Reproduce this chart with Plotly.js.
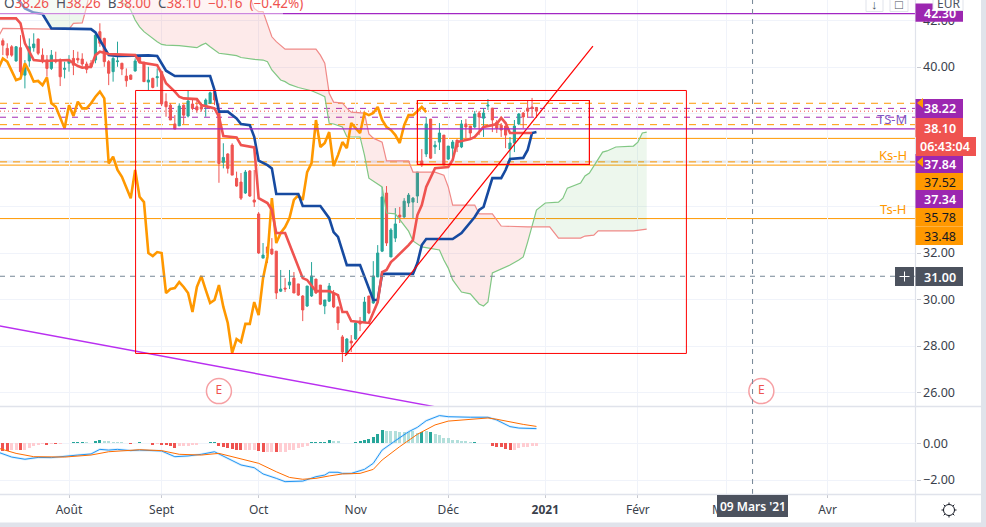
<!DOCTYPE html>
<html><head><meta charset="utf-8">
<script src="https://cdn.plot.ly/plotly-3.0.1.min.js"></script>
<style>html,body{margin:0;padding:0;background:#fff;overflow:hidden}#c{width:986px;height:527px}</style>
</head><body><div id="c"></div><script>
// ---- candles (bar index -15 .. 106, index 0 = first bar of August)
const firstBar=-15;
const openP=[41.13,40.80,40.87,40.26,40.83,39.65,40.26,40.83,41.20,40.51,40.30,39.94,40.30,40.30,39.90,40.16,40.37,40.37,40.34,40.13,40.16,40.30,41.52,41.23,40.23,39.80,40.23,40.16,39.61,39.65,39.83,40.47,40.20,39.35,39.51,39.54,39.80,38.51,38.36,37.55,37.47,38.36,37.89,38.41,38.29,38.29,38.29,38.44,38.94,38.01,35.90,36.26,36.64,35.21,35.05,34.58,35.53,34.28,33.68,31.78,32.26,32.17,32.08,30.36,30.49,30.62,30.92,30.67,30.15,29.72,30.15,30.88,30.62,29.72,29.93,30.28,29.68,28.39,27.70,28.21,28.30,29.07,29.03,30.15,29.85,30.97,32.08,34.58,31.83,32.64,33.63,33.55,34.15,34.19,34.45,35.96,36.26,37.76,36.56,36.77,37.07,36.04,36.51,36.86,36.56,37.55,37.46,37.42,38.02,37.80,38.32,38.23,37.63,37.50,37.46,36.47,36.73,37.55,38.02,38.23,38.28,38.26];
const highP=[41.23,41.02,40.94,40.90,41.37,40.30,41.23,41.45,41.23,40.80,40.51,40.73,40.66,40.37,40.23,40.51,40.73,40.66,40.59,40.23,40.30,41.52,41.88,41.26,40.30,40.44,41.09,40.18,39.94,39.68,40.37,40.51,40.23,40.01,39.54,39.94,39.84,38.87,38.44,37.93,38.44,38.39,38.98,38.65,38.58,38.44,38.65,38.94,39.01,38.44,36.72,36.29,36.72,35.50,35.44,35.57,35.57,35.57,33.76,32.43,32.26,32.64,32.08,31.27,30.92,31.27,31.18,30.67,30.19,30.58,31.61,30.88,30.62,29.98,30.71,30.41,29.68,28.47,28.34,28.47,29.03,29.25,30.11,30.15,31.65,32.34,34.84,34.88,33.07,33.93,33.98,34.36,34.58,34.41,35.48,36.47,37.85,37.76,36.82,37.59,37.07,36.60,36.86,36.86,37.72,37.76,37.46,38.11,38.11,38.23,38.62,38.23,37.72,37.59,37.46,36.99,37.72,38.02,38.06,38.58,38.67,38.26];
const lowP=[40.51,40.37,40.44,40.23,39.65,39.08,40.01,40.66,40.51,40.16,39.58,39.87,40.16,39.18,39.51,39.80,39.65,40.16,40.01,39.73,39.94,40.16,40.87,40.01,39.22,39.37,40.01,39.65,39.15,39.44,39.80,40.16,39.37,39.01,39.08,39.15,38.32,37.86,37.72,37.33,37.46,37.55,37.83,38.15,38.03,38.08,37.86,38.41,38.36,35.02,35.64,35.42,35.35,34.85,34.28,34.54,34.41,33.98,31.96,31.78,31.57,31.91,30.02,30.32,30.32,30.45,30.28,30.15,29.07,29.68,30.11,30.24,29.76,29.37,29.89,29.63,28.69,27.31,27.61,27.74,28.26,28.64,28.99,29.37,29.81,30.97,32.04,32.30,31.83,32.47,33.29,33.50,33.98,33.50,34.15,35.70,36.13,36.04,36.26,36.43,35.78,36.00,36.13,36.34,36.51,36.94,36.94,37.37,37.07,36.99,38.15,37.20,37.16,36.99,36.51,35.91,36.34,37.50,37.37,37.81,37.85,37.81];
const closeP=[40.94,40.51,40.51,40.87,39.80,40.08,40.87,40.99,40.59,40.23,39.94,40.51,40.23,39.58,39.94,40.30,40.08,40.30,40.13,39.90,40.01,41.37,41.02,40.23,39.73,40.37,40.26,39.91,39.41,39.47,40.26,40.20,39.37,39.44,39.12,39.58,38.41,38.29,37.72,37.33,38.32,37.93,38.54,38.22,38.15,38.19,38.58,38.89,38.58,35.85,36.11,35.64,35.35,34.88,34.36,35.48,34.45,34.19,32.00,31.91,32.00,31.96,30.28,30.45,30.45,30.75,30.28,30.19,29.55,30.58,31.01,30.28,29.80,29.98,30.58,29.68,28.99,27.74,28.30,28.13,28.99,28.95,29.89,29.42,31.01,32.00,34.41,32.43,32.99,33.25,33.55,34.23,34.49,34.36,35.48,35.78,37.55,36.08,36.64,37.16,35.78,36.60,36.77,36.56,37.55,37.42,37.16,37.98,37.85,38.02,38.36,37.72,37.37,37.29,37.07,36.73,37.46,37.98,37.85,38.10,38.23,38.10];

// ---- Ichimoku lines (bar index, price)
const tenkanX=[-16,-12,-11,-10,-9,-8,-6,-1,0,1,2,3,5,6,7,9,15,16,20,21,22,24,25,26,29,30,33,34,35,38,39,42,43,45,46,47,49,53,54,56,59,61,62,63,64,68,69,70,71,72,73,74,77,78,79,80,81,83,86,87,88,91,92,93,94,96,97,98,99,100,105];
const tenkanY=[42.09,42.09,41.88,41.02,40.66,40.30,40.26,40.30,40.30,40.16,40.04,39.97,40.01,40.51,40.66,40.56,40.51,40.20,40.08,39.73,39.30,38.94,38.72,38.65,38.62,38.36,38.22,37.86,37.03,36.97,36.64,36.54,34.36,34.15,33.85,32.86,32.86,30.92,30.84,30.36,30.36,30.19,29.46,29.46,29.07,28.99,29.42,29.89,31.18,31.27,31.61,31.78,32.34,32.56,33.63,34.06,34.84,35.65,35.70,36.00,36.77,36.90,36.99,37.20,37.42,37.50,37.55,37.81,37.59,37.16,37.16];
const kijunX=[-13,-10,-8,-6,-4,5,6,8,9,11,18,20,22,24,32,33,34,36,38,39,41,42,43,45,46,47,52,53,57,59,60,61,63,66,69,70,71,78,79,80,81,87,88,89,92,93,94,95,96,98,99,100,103,104,105,106];
const kijunY=[43.30,42.52,42.34,42.28,41.66,41.63,41.49,40.80,40.51,40.47,40.50,40.47,39.84,39.61,39.61,39.01,38.08,38.08,37.79,37.55,37.50,37.00,35.97,35.78,35.64,34.54,34.54,34.02,34.02,33.50,32.90,32.69,31.48,31.48,29.98,29.98,31.10,31.10,31.57,32.34,32.60,32.60,32.73,32.86,33.55,33.85,33.98,34.62,35.22,35.22,35.57,36.04,36.09,36.43,37.16,37.20];
const chikouFirst=-16;
const chikouY=[39.94,40.37,40.23,39.80,39.44,39.51,40.16,39.80,39.37,39.40,39.22,39.55,38.44,38.29,37.86,37.36,38.36,37.89,38.51,38.22,38.22,38.44,38.72,38.94,38.65,35.85,36.14,35.57,35.28,34.85,34.35,35.57,34.42,34.19,32.00,31.87,32.04,32.00,30.28,30.45,30.49,30.75,30.54,30.28,29.46,30.54,31.01,30.41,29.85,29.98,30.62,29.68,28.99,27.70,28.30,28.17,28.95,28.95,29.89,29.33,30.92,31.83,34.36,32.43,32.86,33.12,33.50,34.28,34.49,34.28,35.48,35.87,37.72,36.56,36.73,37.20,35.74,36.21,36.77,36.51,37.59,37.37,37.16,38.02,37.93,38.02,38.28,37.72,37.42,37.29,37.07,36.73,37.50,37.93,37.93,38.10,38.28,38.06];
const spanBX=[-16,-15,-4,0,1,3,4,5,6,40,41,42,43,44,45,46,47,49,56,57,58,59,60,62,63,64,67,68,69,71,72,77,78,83,85,86,87,92,93,96,98,104,109,111,116,117,119,120,128,131];
const spanBY=[41.30,41.66,41.63,41.63,41.88,41.90,42.59,43.45,44.50,44.50,43.02,42.52,42.38,42.38,41.80,41.30,41.09,40.77,40.77,40.51,40.16,38.87,38.49,38.45,38.23,38.06,38.02,37.12,36.94,36.77,35.96,35.96,35.48,35.48,35.35,34.84,34.06,34.06,33.68,33.68,33.16,33.12,33.12,32.64,32.64,32.73,32.77,32.95,32.95,33.03];
const spanAX=[11,12,13,14,15,16,17,18,19,20,21,22,25,28,29,30,31,32,33,34,36,38,39,41,42,44,45,46,47,48,49,50,52,55,57,58,59,60,62,63,66,67,68,71,72,74,77,78,80,83,84,85,86,87,89,91,92,93,94,95,96,97,98,100,102,103,104,105,106,108,111,112,113,116,117,118,119,121,122,124,128,129,130,131];
const spanAY=[43.30,42.77,42.67,42.45,42.02,41.73,41.52,41.37,41.23,41.09,40.97,40.94,40.92,40.84,40.83,40.94,41.02,40.87,40.73,40.59,40.54,40.49,40.41,40.34,40.33,40.30,40.23,39.87,39.63,39.44,39.37,39.25,39.12,38.98,38.82,38.72,37.58,37.55,37.42,37.00,36.99,36.21,35.22,34.84,33.72,33.68,32.94,32.52,32.26,32.17,32.13,31.70,31.35,30.84,30.32,30.24,30.02,29.81,29.72,29.89,31.14,31.23,31.31,31.48,31.70,31.83,32.47,33.20,33.85,34.15,34.19,34.36,34.79,35.01,35.31,35.44,35.74,36.34,36.39,36.56,36.60,36.77,37.16,37.20];
const spanCrossX=104.9, spanCrossY=33.12;
const greenEdgeX=[-11,-8,-6,-4], greenEdgeY=[43.2,42.34,42.28,41.63];

// ---- MACD pane
const histV=[-.40,-.40,-.36,-.35,-.36,-.35,-.25,-.13,-.09,-.04,-.11,-.02,-.05,-.04,.02,.04,.05,.05,.09,.05,.04,.15,.20,.15,.11,.09,.09,.05,.02,-.04,.04,.05,.02,.005,-.07,-.05,-.07,-.09,-.16,-.27,-.16,-.13,-.13,-.11,-.09,.005,.04,.07,.07,-.13,-.22,-.25,-.29,-.35,-.36,-.35,-.35,-.35,-.44,-.47,-.45,-.45,-.49,-.49,-.45,-.36,-.35,-.27,-.22,-.13,.05,.07,.07,.09,.18,.15,.15,.04,.01,.02,.07,.11,.20,.24,.36,.51,.74,.69,.69,.69,.64,.64,.60,.65,.56,.60,.65,.60,.51,.45,.29,.27,.18,.18,.15,.11,.05,.05,.02,.01,.01,-.13,-.18,-.22,-.31,-.35,-.35,-.27,-.22,-.22,-.16,-.16];
const histTone="RRrrRrrrrrRrRrtTTTTttTTttttttRTTttRrRRRRrrrrrtTTTRRRRRRrrrRRrrRrrrrrrrTTTTTtttttTTTTTTTttttttttTtTtttttttttTtttRRRRRrrrrrr";
const macdX=[-16,-13,-10,-7,-4,-1,2,5,7,9,11,14,16,21,24,27,30,33,36,39,42,44,47,49,53,56,58,59,61,62,64,67,69,71,74,77,79,81,84,86,91,95,97,100,102,106];
const macdY=[-.49,-.75,-.87,-.77,-.78,-.73,-.64,-.58,-.33,-.37,-.33,-.40,-.37,-.42,-.73,-.69,-.60,-.46,-.82,-1.18,-1.33,-1.67,-1.91,-2.09,-2.06,-1.82,-1.73,-1.58,-1.58,-1.64,-1.64,-1.42,-1.09,-.37,.14,.63,.87,1.23,1.51,1.45,1.42,1.42,1.27,.91,.83,.80];
const signalX=[-16,-12,-8,-1,5,9,16,21,25,30,34,39,43,47,50,53,56,59,62,66,69,71,75,79,83,86,91,95,97,100,103,106];
const signalY=[-.27,-.55,-.73,-.75,-.64,-.46,-.35,-.40,-.60,-.64,-.55,-.86,-1.09,-1.55,-1.86,-1.96,-1.91,-1.78,-1.67,-1.64,-1.42,-.91,-.18,.49,1.00,1.21,1.32,1.38,1.31,1.16,1.03,.92];

// ---- drawings
const trendPurpleX=[-16,84], trendPurpleY=[28.87,25.35];
const trendRedX=[62.6,118.8], trendRedY=[27.58,40.9];
const bigBoxX=[15.1,140], bigBoxY=[27.68,38.99];
const smallBoxX=[79,118], smallBoxY=[35.81,38.56];
const solidPurple=[42.30,37.34], dashPurple=[38.22,37.84];
const solidOrange=[36.93,35.78,33.48], dashOrange=[38.44,37.52,35.92];
const lastClose=38.10, crossPrice=31.00, crossBar=155;
const earningsX=[34,157], earningsY=[26.06,26.06];

// ---- axis labels
const timeVals=[0,21,43,65,86,108,129,149,172];
const timeText=["Août","Sept","Oct","Nov","Déc","<b>2021</b>","Févr","Mars","Avr"];
const priceVals=[26,28,30,32,34,36,38,40,42];
const macdVals=[-2,0];
const legendParts=[["O","#4c525e"],["38.26 ","#ef5350"],["H","#4c525e"],["38.26 ","#ef5350"],["B","#4c525e"],["38.00 ","#ef5350"],["C","#4c525e"],["38.10 −0.16 (−0.42%)","#ef5350"]];
const sideLabels=[["TS-M",908,118.5,"#7e57c2"],["Ks-H",908,154.5,"#ff9800"],["Ts-H",908,208.5,"#ff9800"]];
const priceTags=[["42.30",3.5,21.7,"#9c27b0","#fff"],["38.22",99,118,"#9c27b0","#fff"],["38.10",118,137,"#ef5350","#fff"],["37.84",154,173,"#9c27b0","#fff"],["37.52",173,190,"#ff9800","#131722"],["37.34",190,208,"#9c27b0","#fff"],["35.78",208,226.5,"#ff9800","#131722"],["33.48",226.5,245,"#ff9800","#131722"],["31.00",267,286,"#4c525e","#fff"]];
const sunAngles=[0,45,90,135,180,225,270,315];

// ---- helpers
const W=986,H=527,fam='"Noto Sans",sans-serif';
const PX=p=>p/W, PY=p=>1-p/H;
const xs=closeP.map((_,i)=>i+firstBar);
const chikouX=chikouY.map((_,i)=>i+chikouFirst);
const upFill='#26a69a',dnFill='#ef5350';
const toneColor={R:'#ef5350',r:'#ffcdd2',T:'#26a69a',t:'#b2dfdb'};
const line=(x,y,color,width,extra)=>Object.assign({type:'scatter',mode:'lines',x,y,line:{color,width},hoverinfo:'skip',showlegend:false},extra||{});

// kumo polygons
const segA=(a,b)=>spanAX.map((x,i)=>[x,spanAY[i]]).filter(p=>p[0]>=a&&p[0]<=b);
const segB=(a,b)=>spanBX.map((x,i)=>[x,spanBY[i]]).filter(p=>p[0]>=a&&p[0]<=b);
const redPoly=[...segA(11,spanCrossX),[spanCrossX,spanCrossY],...segB(11,spanCrossX).reverse(),[11,44.5]];
const rightGreenPoly=[[spanCrossX,spanCrossY],...segA(spanCrossX,131),...segB(spanCrossX,131).reverse()];
const leftGreenPoly=[...greenEdgeX.map((x,i)=>[x,greenEdgeY[i]]),...segB(-4,5).map(p=>p),[5,44],[-11,44]];
const poly=(pts,color)=>({type:'scatter',mode:'lines',x:pts.map(p=>p[0]),y:pts.map(p=>p[1]),fill:'toself',fillcolor:color,line:{width:0,color:'rgba(0,0,0,0)'},hoverinfo:'skip',showlegend:false});

const traces=[
 poly(redPoly,'rgba(239,83,80,0.12)'),
 poly(rightGreenPoly,'rgba(76,175,80,0.10)'),
 poly(leftGreenPoly,'rgba(76,175,80,0.10)'),
 {type:'candlestick',x:xs,open:openP,high:highP,low:lowP,close:closeP,
  increasing:{line:{color:upFill,width:1},fillcolor:upFill},decreasing:{line:{color:dnFill,width:1},fillcolor:dnFill},
  whiskerwidth:0,hoverinfo:'skip',showlegend:false,xaxis:'x',yaxis:'y'},
 line(spanAX,spanAY,'#81c784',1.2),
 line(spanBX,spanBY,'#f08a88',1.2),
 line(trendPurpleX,trendPurpleY,'#b92ff0',1.4),
 line(chikouX,chikouY,'#ff9800',2.6),
 line(kijunX,kijunY,'#164aa0',2.6),
 line(tenkanX,tenkanY,'#ef5350',2.6),
 line(trendRedX,trendRedY,'#ff0000',1.2),
 {type:'scatter',mode:'markers+text',x:earningsX,y:earningsY,text:['E','E'],textfont:{color:'#ef5350',size:12,family:fam},textposition:'middle center',
  marker:{size:25,color:'rgba(255,255,255,0.9)',line:{color:'#f6a0a4',width:1.5}},hoverinfo:'skip',showlegend:false},
 {type:'bar',x:xs,y:histV,width:0.68,marker:{color:histV.map((_,i)=>toneColor[histTone[i]]),line:{width:0}},xaxis:'x',yaxis:'y2',hoverinfo:'skip',showlegend:false},
 line(macdX,macdY,'rgba(33,150,243,0.14)',2.6,{yaxis:'y2'}),
 line(macdX,macdY,'#2196f3',1,{yaxis:'y2'}),
 line(signalX,signalY,'#ff6d00',1,{yaxis:'y2'})
];

const hline=(v,color,width,dash,layer)=>({type:'line',xref:'x domain',yref:'y',x0:0,x1:1,y0:v,y1:v,line:{color,width,dash:dash||'solid'},layer:layer||'below'});
const pxRect=(x0,y0,x1,y1,fill,lineColor,w)=>({type:'rect',xref:'paper',yref:'paper',x0:PX(x0),x1:PX(x1),y0:PY(y0),y1:PY(y1),fillcolor:fill,line:{color:lineColor||'rgba(0,0,0,0)',width:w||0},layer:'above'});
const pxLine=(x0,y0,x1,y1,color,w)=>({type:'line',xref:'paper',yref:'paper',x0:PX(x0),x1:PX(x1),y0:PY(y0),y1:PY(y1),line:{color,width:w},layer:'above'});
const shapes=[
 hline(dashOrange[2],'rgba(205,205,210,0.5)',2,'solid'),
 ...dashPurple.map(v=>hline(v,'#a12ab8',1,'6px,6px')),
 ...solidOrange.map(v=>hline(v,'#ff9800',1)),
 ...dashOrange.map(v=>hline(v,'#ff9800',1,'7px,6px')),
 hline(lastClose,'#ef5350',1,'1px,3px'),
 ...solidPurple.map(v=>hline(v,'#a226c4',1.2,'solid','above')),
 hline(crossPrice,'#758696',1,'5px,5px','above'),
 {type:'line',xref:'x',yref:'paper',x0:crossBar,x1:crossBar,y0:PY(494),y1:1,line:{color:'#758696',width:1,dash:'5px,5px'},layer:'above'},
 {type:'rect',xref:'x',yref:'y',x0:bigBoxX[0],x1:bigBoxX[1],y0:bigBoxY[0],y1:bigBoxY[1],line:{color:'#ff0000',width:1},fillcolor:'rgba(0,0,0,0)',layer:'above'},
 {type:'rect',xref:'x',yref:'y',x0:smallBoxX[0],x1:smallBoxX[1],y0:smallBoxY[0],y1:smallBoxY[1],line:{color:'#ff0000',width:1.2},fillcolor:'rgba(0,0,0,0)',layer:'above'},
 // pane separators and chrome
 pxRect(0,12.9,283,0,'rgba(255,255,255,0.0)'),
 pxRect(0,15,283,0,'rgba(255,255,255,0.45)'),
 pxLine(0,406.5,981,406.5,'#e0e3eb',1.4),
 pxLine(0,494.5,981,494.5,'#e0e3eb',1.4),
 pxLine(915.5,522,915.5,0,'#e0e3eb',1.2),
 pxRect(0,522.5,986,527,'#e0e3eb'),
 pxRect(981,0,986,527,'#e0e3eb'),
 ...priceTags.map(t=>pxRect(915.5,t[1],963,t[2],t[3])),
 pxRect(916,137,976,156,'#ef5350'),
 pxRect(895,267,914,286,'#4c525e'),
 pxLine(899.5,276.5,909.5,276.5,'#fff',1),
 pxLine(904.5,271.5,904.5,281.5,'#fff',1),
 pxRect(717,495,788,517,'#4c525e'),
 pxRect(866,-4,883,11.5,'rgba(255,255,255,0.92)','#e0e3eb',1),
 pxRect(890,-4,908,11.5,'rgba(255,255,255,0.92)','#e0e3eb',1),
 pxRect(933,-4,963,10.5,'#ffffff','#e0e3eb',1),
 // settings icon
 {type:'circle',xref:'paper',yref:'paper',x0:PX(943.5),x1:PX(954.5),y0:PY(504.5),y1:PY(515.5),line:{color:'#131722',width:1},fillcolor:'#fff',layer:'above'},
 ...sunAngles.map(a=>{const c=Math.cos(a*Math.PI/180),s=Math.sin(a*Math.PI/180);return pxLine(949+5.5*c,510+5.5*s,949+7.5*c,510+7.5*s,'#131722',1);}),
 // tag flags
 {type:'path',xref:'paper',yref:'paper',path:`M${PX(923)},${PY(98)} L${PX(917)},${PY(103)} L${PX(923)},${PY(108)} Z`,fillcolor:'#ff9800',line:{width:0},layer:'above'},
 {type:'path',xref:'paper',yref:'paper',path:`M${PX(923)},${PY(157)} L${PX(917)},${PY(162)} L${PX(923)},${PY(167)} Z`,fillcolor:'#ff9800',line:{width:0},layer:'above'},
];

const ann=(text,x,y,size,color,o)=>Object.assign({xref:'paper',yref:'paper',x:PX(x),y:PY(y),text,showarrow:false,font:{family:fam,size,color},xanchor:'center',yanchor:'middle',borderpad:0},o||{});
const boldWhite=c=>c==='#fff'?600:400;
const annotations=[
 ann(legendParts.map(p=>`<span style="color:${p[1]}">${p[0].replace(/ /g,'\u00a0 ')}</span>`).join(''),3,3.5,13.5,'#4c525e',{xanchor:'left'}),
 ...sideLabels.map(l=>ann(l[0],l[1],l[2],13,l[3],{xanchor:'right'})),
 ...priceTags.map(t=>ann(t[0],940,(t[1]+t[2])/2+0.5,12,t[4],{font:{family:fam,size:12.5,color:t[4],weight:boldWhite(t[4])}})),
 ann('06:43:04',944.5,146.5,12,'#fff',{font:{family:fam,size:12.5,color:'#fff',weight:600}}),
 ann("09 Mars '21",752.5,506,12,'#fff',{font:{family:fam,size:12,color:'#fff',weight:600}}),
 ann('↓',874.5,4,13,'#4c525e'),
 ann('□',899,4,13,'#4c525e'),
 ann('EUR',948,3,12,'#4c525e'),
];

const axisFont={family:fam,size:12.5,color:'#3a3f4b'};
const layout={
 width:W,height:H,margin:{l:0,r:0,t:0,b:0,pad:0},paper_bgcolor:'#fff',plot_bgcolor:'#fff',showlegend:false,bargap:0,dragmode:false,hovermode:false,
 xaxis:{domain:[0,915.5/W],range:[-69/4.41,(915.5-69)/4.41],anchor:'y2',type:'linear',tickmode:'array',tickvals:timeVals,ticktext:timeText,tickfont:{family:fam,size:12,color:'#3a3f4b'},
  ticks:'outside',ticklen:3,tickcolor:'#c8cad2',ticklabelstandoff:2,showgrid:true,gridcolor:'#f0f3fa',gridwidth:1,zeroline:false,showline:false,rangeslider:{visible:false},fixedrange:true,tickangle:0},
 yaxis:{domain:[1-406/H,1],range:[40-(406-67)/23.25,40+67/23.25],anchor:'x',side:'right',tickmode:'array',tickvals:priceVals,ticktext:priceVals.map(v=>v.toFixed(2)),
  tickfont:axisFont,ticks:'outside',ticklen:4,tickcolor:'#c8cad2',showgrid:true,gridcolor:'#f0f3fa',zeroline:false,showline:false,fixedrange:true},
 yaxis2:{domain:[1-494/H,1-407/H],range:[(443.3-494)/18.35,(443.3-407)/18.35],anchor:'x',side:'right',tickmode:'array',tickvals:macdVals,ticktext:['−2.00','0.00'],
  tickfont:axisFont,ticks:'outside',ticklen:4,tickcolor:'#c8cad2',showgrid:true,gridcolor:'#f0f3fa',zeroline:false,showline:false,fixedrange:true},
 shapes,annotations
};
Plotly.newPlot('c',traces,layout,{displayModeBar:false,staticPlot:true});
</script></body></html>
